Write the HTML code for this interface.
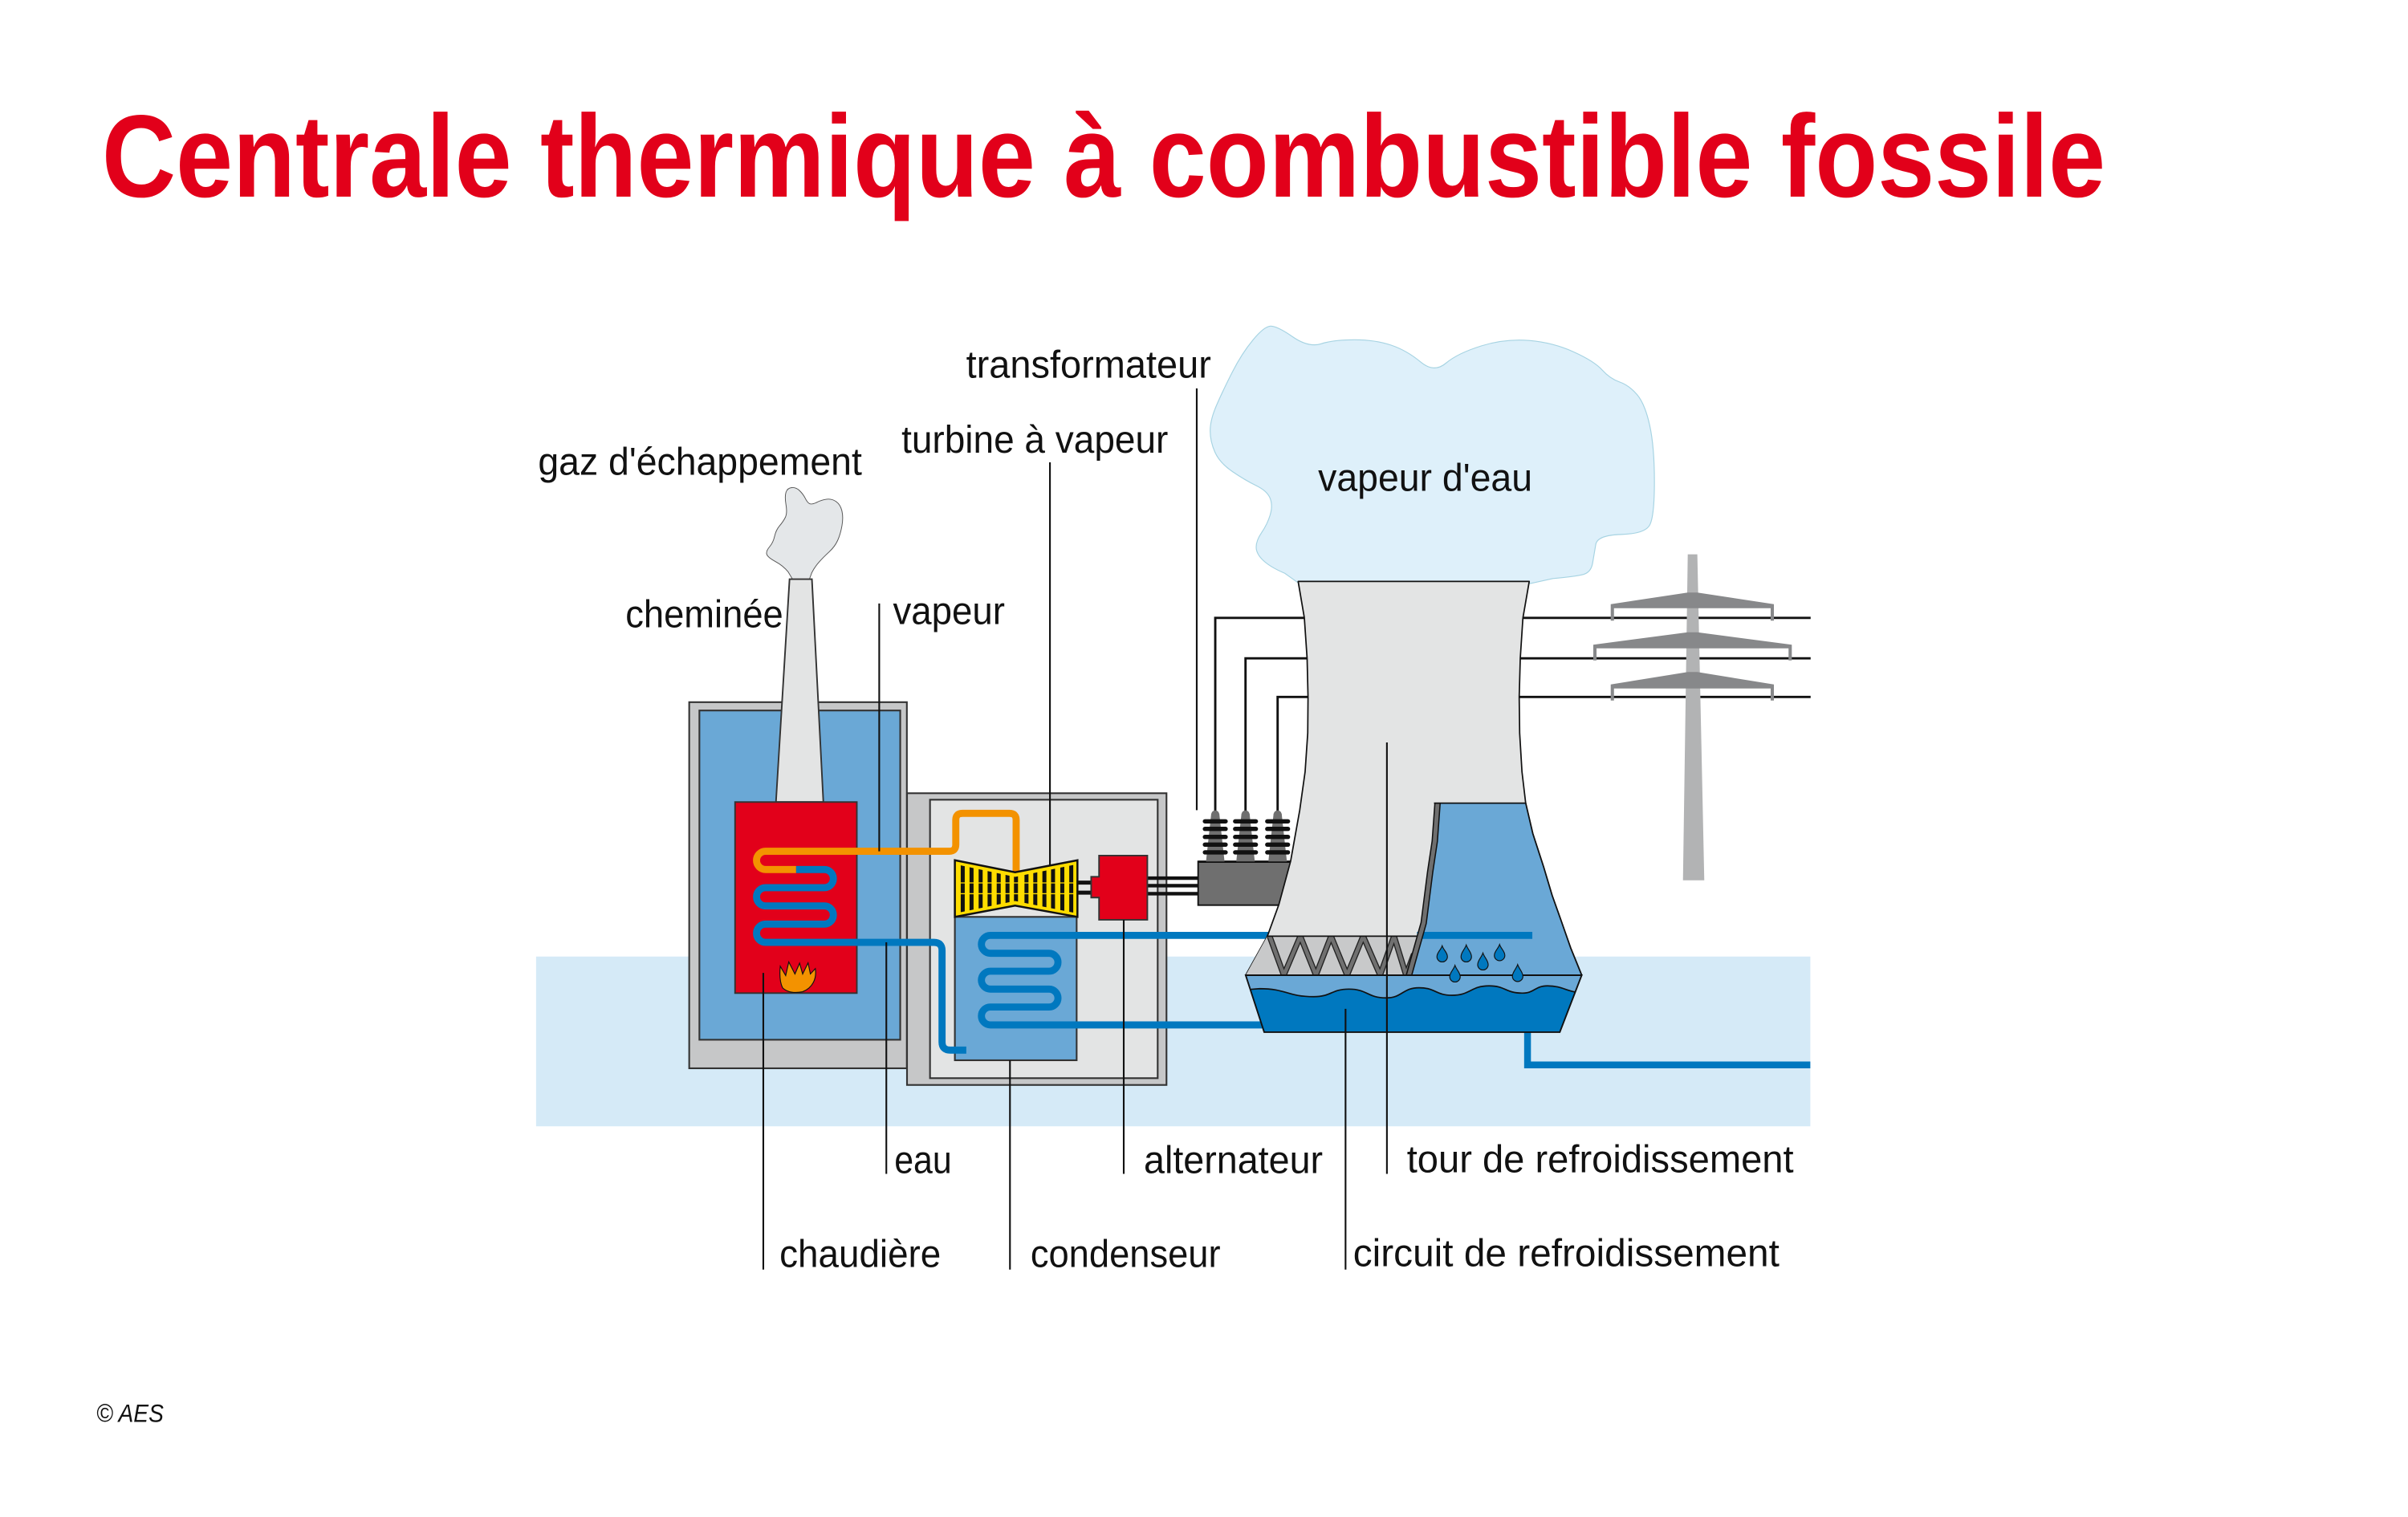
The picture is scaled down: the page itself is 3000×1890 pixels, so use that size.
<!DOCTYPE html>
<html>
<head>
<meta charset="utf-8">
<style>
html,body{margin:0;padding:0;background:#ffffff;}
svg{display:block;}
</style>
</head>
<body>
<svg xmlns="http://www.w3.org/2000/svg" width="3000" height="1890" viewBox="0 0 1560 982.8" preserveAspectRatio="none">
<defs>
  <clipPath id="turbClip">
    <polygon points="620.8,560.3 657.6,568.1 695.7,560.3 695.7,591.3 657.6,583.7 620.8,591.3"/>
  </clipPath>
  <clipPath id="packClip">
    <polygon points="821,606.5 920,606.5 913,631.8 807,631.8"/>
  </clipPath>
</defs>

<rect x="0" y="0" width="1560" height="982.8" fill="#ffffff"/>

<!-- Title -->
<text x="66" y="127.4" font-family="'Liberation Sans', sans-serif" font-weight="bold" font-size="76" fill="#e2001a" textLength="1298" lengthAdjust="spacingAndGlyphs">Centrale thermique à combustible fossile</text>

<!-- light blue ground band -->
<rect x="347.3" y="619.7" width="825.5" height="110" fill="#d5eaf7"/>

<!-- cloud -->
<path d="M841.6,378 L832.35,371.4 Q823.1,367.5 818.45,363.15 Q813.8,358.8 813.8,354.45 Q813.8,350.1 817.4,344.9 Q821,339.7 822.85,333.65 Q824.7,327.6 822.85,322.85 Q821,318.1 813.8,314.6 Q806.6,311.1 798.4,305.5 Q790.2,299.9 787.1,292.95 Q784,286 784,279.05 Q784,272.1 788.1,262.6 Q792.2,253.1 798.4,240.95 Q804.6,228.8 811.8,220.15 Q819,211.5 823.1,211.3 Q827.2,211.1 837.45,218.2 Q847.7,225.3 855.95,222.7 Q864.2,220.1 877.55,220.1 Q890.9,220.1 901.2,223.6 Q911.5,227.1 920.25,234.45 Q929,241.8 936.7,235.3 Q944.4,228.8 959.8,224.05 Q975.2,219.3 990.6,220.6 Q1006,221.9 1019.4,227.95 Q1032.8,234 1037.9,239.65 Q1043,245.3 1049.2,247.45 Q1055.4,249.6 1060.55,255.65 Q1065.7,261.7 1068.75,275.6 Q1071.8,289.5 1071.8,312 Q1071.8,334.5 1068.75,340.15 Q1065.7,345.8 1050.25,346.25 Q1034.8,346.7 1033.8,352.75 Q1032.8,358.8 1031.75,364.85 Q1030.7,370.9 1025.55,372.2 Q1020.4,373.5 1006,374.8 L991.6,378 Z" fill="#def0fa" stroke="#a6d3e2" stroke-width="0.6"/>

<!-- smoke -->
<path d="M513.9,376 L510.65,370.55 Q507.4,366.5 502.3,363.75 Q497.2,361 496.7,359 Q496.2,357 498.55,354.25 Q500.9,351.5 501.8,347.45 Q502.7,343.4 505.05,340.65 Q507.4,337.9 508.75,335.2 Q510.1,332.5 509.2,327.05 Q508.3,321.6 509.2,318.9 Q510.1,316.2 512.9,315.9 Q515.7,315.6 518.05,317.9 Q520.4,320.2 521.75,322.95 Q523.1,325.7 524.55,326.35 Q526,327 529.2,325.4 Q532.4,323.8 535.7,323.4 Q539,323 541.75,325 Q544.5,327 545.45,331.1 Q546.4,335.2 545.45,340.65 Q544.5,346.1 542.65,350.15 Q540.8,354.2 537.1,357.6 Q533.4,361 530.6,364.15 Q527.8,367.3 525.95,370.95 L524.1,376 Z" fill="#e4e7e9" stroke="#555" stroke-width="0.5"/>

<!-- Boiler -->
<rect x="446.5" y="454.9" width="141" height="237.2" fill="#c6c7c8" stroke="#333" stroke-width="1.1"/>
<rect x="453.1" y="460.3" width="130.1" height="213.3" fill="#6aa8d6" stroke="#333" stroke-width="1.1"/>
<polygon points="511.5,375.2 526,375.2 533.4,519.6 502.7,519.6" fill="#e3e4e4" stroke="#333" stroke-width="1"/>
<rect x="476.2" y="519.6" width="78.9" height="123.8" fill="#e2001a" stroke="#333" stroke-width="1"/>

<!-- flame -->
<path d="M507,640 C505,636 505,631 505.5,626 L509,632 L511,623.2 L515,631 L518,624 L520,631 L523.5,623.8 L525,631 L528.2,627.5 C529.2,634 526.5,640 520,642.5 C515,643.5 510,643 507,640 Z" fill="#f39200" stroke="#111" stroke-width="0.6"/>

<!-- Condenser housing -->
<rect x="587.6" y="513.9" width="168.1" height="189" fill="#c6c7c8" stroke="#333" stroke-width="1.1"/>
<rect x="602.5" y="518.1" width="147.5" height="180.4" fill="#e3e4e4" stroke="#333" stroke-width="1.1"/>
<rect x="618.6" y="594" width="78.9" height="92.9" fill="#6aa8d6" stroke="#333" stroke-width="1.1"/>

<!-- outflow pipe from basin -->
<path d="M989.6,660 V689.9 H1172.8" fill="none" stroke="#0078bf" stroke-width="4.4"/>

<!-- condenser coil -->
<path d="M992.7,606 H641.6 A5.8,5.8 0 0 0 641.6,617.6 H679.6 A5.8,5.8 0 0 1 679.6,629.2 H641.6 A5.8,5.8 0 0 0 641.6,640.8 H679.6 A5.8,5.8 0 0 1 679.6,652.4 H641.6 A5.8,5.8 0 0 0 641.6,664 H822" fill="none" stroke="#0078bf" stroke-width="4.6"/>

<!-- boiler coil blue -->
<path d="M515.7,563.3 H534 A5.9,5.9 0 0 1 534,575.1 H496 A5.9,5.9 0 0 0 496,586.9 H534 A5.9,5.9 0 0 1 534,598.7 H496 A5.9,5.9 0 0 0 496,610.5 H605 Q610.3,610.5 610.3,615.8 V675 Q610.3,680.3 615.6,680.3 H626" fill="none" stroke="#0078bf" stroke-width="4.6"/>
<!-- boiler coil orange / steam -->
<path d="M515.7,563.3 H496 A5.9,5.9 0 0 1 496,551.5 H614.9 Q619.2,551.5 619.2,547.2 V531.2 Q619.2,526.9 623.5,526.9 H654 Q658.3,526.9 658.3,531.2 V566" fill="none" stroke="#f39200" stroke-width="4.6"/>

<!-- turbine -->
<polygon points="618.6,557.3 657.6,565.1 698,557.3 698,594 657.6,586.7 618.6,594" fill="#ffdd00" stroke="#111" stroke-width="1.3"/>
<g clip-path="url(#turbClip)" fill="#111">
  <rect x="622.4" y="556" width="2.6" height="40"/>
  <rect x="628.1" y="556" width="2.6" height="40"/>
  <rect x="634" y="556" width="2.6" height="40"/>
  <rect x="639.8" y="556" width="2.6" height="40"/>
  <rect x="645.7" y="556" width="2.6" height="40"/>
  <rect x="651.4" y="556" width="2.6" height="40"/>
  <rect x="656.9" y="556" width="2.6" height="40"/>
  <rect x="663.7" y="556" width="2.6" height="40"/>
  <rect x="669.4" y="556" width="2.6" height="40"/>
  <rect x="675.3" y="556" width="2.6" height="40"/>
  <rect x="680.9" y="556" width="2.6" height="40"/>
  <rect x="686.9" y="556" width="2.6" height="40"/>
  <rect x="692.7" y="556" width="2.6" height="40"/>
</g>
<line x1="620" y1="572" x2="697" y2="572" stroke="#ffdd00" stroke-width="0.7"/>
<line x1="620" y1="579" x2="697" y2="579" stroke="#ffdd00" stroke-width="0.7"/>

<!-- shafts -->
<line x1="697.5" y1="571.8" x2="707.5" y2="571.8" stroke="#111" stroke-width="2.6"/>
<line x1="697.5" y1="578.3" x2="707.5" y2="578.3" stroke="#111" stroke-width="2.6"/>
<line x1="743" y1="568.9" x2="777" y2="568.9" stroke="#111" stroke-width="2.3"/>
<line x1="743" y1="573.8" x2="777" y2="573.8" stroke="#111" stroke-width="2.3"/>
<line x1="743" y1="579" x2="777" y2="579" stroke="#111" stroke-width="2.3"/>

<!-- alternator -->
<path d="M712,554.3 H743.3 V595.9 H712 V581.5 H706.9 V568 H712 Z" fill="#e2001a" stroke="#333" stroke-width="1"/>

<!-- power lines -->
<polyline points="787.3,527 787.3,400.3 1173,400.3" fill="none" stroke="#111" stroke-width="1.5"/>
<polyline points="806.9,527 806.9,426.5 1173,426.5" fill="none" stroke="#111" stroke-width="1.5"/>
<polyline points="827.7,527 827.7,451.5 1173,451.5" fill="none" stroke="#111" stroke-width="1.5"/>

<!-- transformer -->
<rect x="776.2" y="558.1" width="66" height="28.3" fill="#6f6f6f" stroke="#111" stroke-width="1"/>
<line x1="776.2" y1="558.3" x2="842" y2="558.3" stroke="#111" stroke-width="1.4"/>
<g fill="#6f6f6f">
  <polygon points="784.7,527 789.9,527 793.3,558.1 781.3,558.1"/><circle cx="787.3" cy="527.6" r="2.6"/>
  <polygon points="804.3,527 809.5,527 812.9,558.1 800.9,558.1"/><circle cx="806.9" cy="527.6" r="2.6"/>
  <polygon points="825.1,527 830.3,527 833.7,558.1 821.7,558.1"/><circle cx="827.7" cy="527.6" r="2.6"/>
</g>
<g fill="#111">
  <rect x="779.2" y="530.7" width="16.2" height="2.8" rx="1.4"/>
  <rect x="779.2" y="535.6" width="16.2" height="2.8" rx="1.4"/>
  <rect x="779.2" y="540.8" width="16.2" height="2.8" rx="1.4"/>
  <rect x="779.2" y="545.8" width="16.2" height="2.8" rx="1.4"/>
  <rect x="779.2" y="550.8" width="16.2" height="2.8" rx="1.4"/>
  <rect x="798.8" y="530.7" width="16.2" height="2.8" rx="1.4"/>
  <rect x="798.8" y="535.6" width="16.2" height="2.8" rx="1.4"/>
  <rect x="798.8" y="540.8" width="16.2" height="2.8" rx="1.4"/>
  <rect x="798.8" y="545.8" width="16.2" height="2.8" rx="1.4"/>
  <rect x="798.8" y="550.8" width="16.2" height="2.8" rx="1.4"/>
  <rect x="819.6" y="530.7" width="16.2" height="2.8" rx="1.4"/>
  <rect x="819.6" y="535.6" width="16.2" height="2.8" rx="1.4"/>
  <rect x="819.6" y="540.8" width="16.2" height="2.8" rx="1.4"/>
  <rect x="819.6" y="545.8" width="16.2" height="2.8" rx="1.4"/>
  <rect x="819.6" y="550.8" width="16.2" height="2.8" rx="1.4"/>
</g>

<!-- pylon -->
<polygon points="1093.4,359.1 1099.6,359.1 1104.1,570.3 1090.3,570.3" fill="#b2b3b4"/>
<path d="M1043.5,402.1 V391.4 L1093.4,383.9 H1099.6 L1149.2,391.4 V402.1 H1147.1 V394 H1045.6 V402.1 Z" fill="#87888a"/>
<path d="M1032.2,427.8 V417.7 L1093.4,409.6 H1099.6 L1160.8,417.7 V427.8 H1158.7 V420 H1034.3 V427.8 Z" fill="#87888a"/>
<path d="M1043.5,453.8 V443.4 L1093.4,435.4 H1099.6 L1149.2,443.4 V453.8 H1147.1 V446 H1045.6 V453.8 Z" fill="#87888a"/>

<!-- cooling tower shell -->
<path d="M841,376.7 L990.7,376.7 L986.6,400.4 L984.9,426.4 L984.2,451.5 L984.5,475 L986,500 L988.4,520.3 L993,540 L1000,561.6 L1005.5,580 L1011.3,596.3 L1017.5,614 L1024.7,631.8 L807,631.8 L821,606.7 L828.5,586 L836.1,558 L842,525 L845.5,500 L847.2,475 L847.4,451.6 L846.8,426.6 L845,400.2 Z" fill="#e3e4e4" stroke="#111" stroke-width="0.9" stroke-linejoin="round"/>

<!-- packing -->
<polygon points="821,606.5 920,606.5 913,631.8 807,631.8" fill="#c8c9ca"/>
<g clip-path="url(#packClip)">
  <polyline points="822.5,606.5 831.7,631.8 842.4,606.5 852.5,631.8 862.3,606.5 872.7,631.8 883.1,606.5 894.1,631.8 903.1,606.5 910.9,631.8 916,618" fill="none" stroke="#222" stroke-width="3.8"/>
  <polyline points="822.5,606.5 831.7,631.8 842.4,606.5 852.5,631.8 862.3,606.5 872.7,631.8 883.1,606.5 894.1,631.8 903.1,606.5 910.9,631.8 916,618" fill="none" stroke="#707070" stroke-width="2.4"/>
</g>
<line x1="820.7" y1="606.5" x2="919" y2="606.5" stroke="#111" stroke-width="0.9"/>

<!-- cutaway -->
<path d="M931.3,520.3 L988.4,520.3 L993,540 L1000,561.6 L1005.5,580 L1011.3,596.3 L1017.5,614 L1024.7,631.8 L912.8,631.8 L917.5,615 L922.3,598 L926.5,565 L929.5,545 Z" fill="#6aa8d6"/>
<path d="M918,606 H992.7" stroke="#0078bf" stroke-width="4.6" fill="none"/>
<path d="M931.3,520.3 L929.5,545 L926.5,565 L922.3,598 L917.5,615 L912.8,631.8" fill="none" stroke="#111" stroke-width="4.2"/>
<path d="M931.3,520.3 L929.5,545 L926.5,565 L922.3,598 L917.5,615 L912.8,631.8" fill="none" stroke="#6f6f6f" stroke-width="2.6"/>
<line x1="929" y1="520.3" x2="988.4" y2="520.3" stroke="#111" stroke-width="0.9"/>
<path d="M988.4,520.3 L993,540 L1000,561.6 L1005.5,580 L1011.3,596.3 L1017.5,614 L1024.7,631.8" fill="none" stroke="#111" stroke-width="0.9"/>

<!-- basin -->
<polygon points="807,631.8 1024.7,631.8 1010.5,668.7 819,668.7" fill="#6aa8d6"/>
<path d="M809.8,641 L816,640.5 C833.6,640.5 833.6,645.7 851.2,645.7 C862.5,645.7 862.5,640.8 873.9,640.8 C885.9,640.8 885.9,646.5 897.9,646.5 C908.6,646.5 908.6,639.9 919.3,639.9 C930,639.9 930,644.8 940.7,644.8 C952.7,644.8 952.7,638.7 964.7,638.7 C975.4,638.7 975.4,643.4 986.1,643.4 C994.3,643.4 994.3,638.7 1002.5,638.7 C1011,638.7 1014,641.5 1020.5,642.7 L1010.5,668.7 L819,668.7 Z" fill="#0078bf"/>
<path d="M809.8,641 L816,640.5 C833.6,640.5 833.6,645.7 851.2,645.7 C862.5,645.7 862.5,640.8 873.9,640.8 C885.9,640.8 885.9,646.5 897.9,646.5 C908.6,646.5 908.6,639.9 919.3,639.9 C930,639.9 930,644.8 940.7,644.8 C952.7,644.8 952.7,638.7 964.7,638.7 C975.4,638.7 975.4,643.4 986.1,643.4 C994.3,643.4 994.3,638.7 1002.5,638.7 C1011,638.7 1014,641.5 1020.5,642.7" fill="none" stroke="#111" stroke-width="0.9"/>
<polygon points="807,631.8 1024.7,631.8 1010.5,668.7 819,668.7" fill="none" stroke="#111" stroke-width="1"/>

<!-- drops -->
<g fill="#0078bf" stroke="#111" stroke-width="0.6">
  <path d="M934.3,612.7 C935.3,615.7 937.7,617 937.7,619.8 A3.4,3.4 0 0 1 930.9,619.8 C930.9,617 933.3,615.7 934.3,612.7 Z"/>
  <path d="M949.9,612.2 C950.9,615.2 953.3,617 953.3,619.8 A3.4,3.4 0 0 1 946.5,619.8 C946.5,617 948.9,615.2 949.9,612.2 Z"/>
  <path d="M960.7,617.4 C961.7,620.4 964.1,622.2 964.1,625 A3.4,3.4 0 0 1 957.3,625 C957.3,622.2 959.7,620.4 960.7,617.4 Z"/>
  <path d="M971.5,611.9 C972.5,614.9 974.9,616.2 974.9,619 A3.4,3.4 0 0 1 968.1,619 C968.1,616.2 970.5,614.9 971.5,611.9 Z"/>
  <path d="M942.6,625.4 C943.6,628.4 946,630 946,632.8 A3.4,3.4 0 0 1 939.2,632.8 C939.2,630 941.6,628.4 942.6,625.4 Z"/>
  <path d="M983.2,624.9 C984.2,627.9 986.6,629.7 986.6,632.5 A3.4,3.4 0 0 1 979.8,632.5 C979.8,629.7 982.2,627.9 983.2,624.9 Z"/>
</g>

<!-- leader lines -->
<g stroke="#111" stroke-width="1.1" fill="none">
  <line x1="569.6" y1="391" x2="569.6" y2="551.5"/>
  <line x1="680.2" y1="299.5" x2="680.2" y2="561"/>
  <line x1="775.3" y1="251.6" x2="775.3" y2="524.9"/>
  <line x1="574.2" y1="610.5" x2="574.2" y2="760.5"/>
  <line x1="494.5" y1="630.3" x2="494.5" y2="822.5"/>
  <line x1="654.3" y1="686.9" x2="654.3" y2="822.5"/>
  <line x1="728" y1="595.9" x2="728" y2="760.5"/>
  <line x1="898.5" y1="481" x2="898.5" y2="760.5"/>
  <line x1="871.7" y1="653.6" x2="871.7" y2="822.5"/>
</g>

<!-- labels -->
<g font-family="'Liberation Sans', sans-serif" font-size="25" fill="#111">
  <text x="348.6" y="307.5" textLength="209.8" lengthAdjust="spacingAndGlyphs">gaz d'échappement</text>
  <text x="625.9" y="244.6" textLength="158.7" lengthAdjust="spacingAndGlyphs">transformateur</text>
  <text x="584" y="293.3" textLength="172.8" lengthAdjust="spacingAndGlyphs">turbine à vapeur</text>
  <text x="853.9" y="318.1" textLength="138.8" lengthAdjust="spacingAndGlyphs">vapeur d'eau</text>
  <text x="405.2" y="406.5" textLength="102.2" lengthAdjust="spacingAndGlyphs">cheminée</text>
  <text x="578.5" y="404.2" textLength="72.5" lengthAdjust="spacingAndGlyphs">vapeur</text>
  <text x="579.4" y="760" textLength="37.2" lengthAdjust="spacingAndGlyphs">eau</text>
  <text x="741" y="760" textLength="116" lengthAdjust="spacingAndGlyphs">alternateur</text>
  <text x="911.4" y="759.5" textLength="250.6" lengthAdjust="spacingAndGlyphs">tour de refroidissement</text>
  <text x="505" y="820.7" textLength="104.6" lengthAdjust="spacingAndGlyphs">chaudière</text>
  <text x="667.6" y="820.7" textLength="123.1" lengthAdjust="spacingAndGlyphs">condenseur</text>
  <text x="876.6" y="820.2" textLength="276.2" lengthAdjust="spacingAndGlyphs">circuit de refroidissement</text>
</g>
<text x="62.4" y="921.3" font-family="'Liberation Sans', sans-serif" font-style="italic" font-size="16.5" fill="#111" textLength="43.6" lengthAdjust="spacingAndGlyphs">© AES</text>
</svg>
</body>
</html>
